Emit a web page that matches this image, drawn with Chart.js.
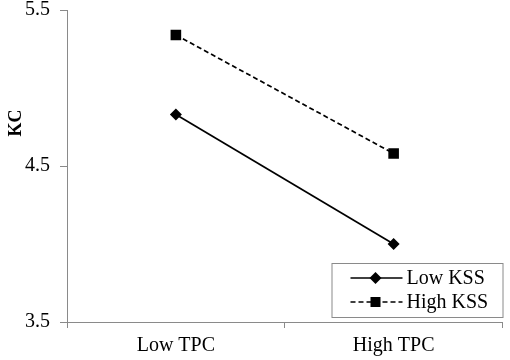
<!DOCTYPE html>
<html>
<head>
<meta charset="utf-8">
<script src="https://cdn.jsdelivr.net/npm/chart.js@4.4.1/dist/chart.umd.min.js"></script>
<style>
  html, body { margin: 0; padding: 0; background: #fff; }
</style>
</head>
<body>
<canvas id="kc" width="510" height="360"></canvas>
<script>
const categories = ['Low TPC', 'High TPC'];
const lowKss = [4.83, 4.00];
const highKss = [5.34, 4.58];
const seriesNames = ['Low KSS', 'High KSS'];
const yTicks = [3.5, 4.5, 5.5];
const yTitle = 'KC';

const serif = "'Liberation Serif', 'Times New Roman', serif";
const axisGray = '#8a8a8a';

// legend with a frame, sitting in the lower right of the plot
const boxLegend = {
  id: 'boxLegend',
  afterDraw(chart) {
    const ctx = chart.ctx;
    const a = chart.chartArea;
    const w = 171, h = 54;
    const x0 = a.right - w, y0 = a.bottom - 5 - h;
    ctx.save();
    ctx.fillStyle = '#fff';
    ctx.fillRect(x0, y0, w, h);
    ctx.strokeStyle = axisGray;
    ctx.lineWidth = 1;
    ctx.strokeRect(x0 + 0.5, y0 + 0.5, w, h);
    chart.data.datasets.forEach((ds, i) => {
      const y = y0 + 15 + i * 24;
      ctx.strokeStyle = ds.borderColor;
      ctx.lineWidth = ds.borderWidth;
      ctx.setLineDash(ds.borderDash || []);
      ctx.beginPath();
      ctx.moveTo(x0 + 19, y);
      ctx.lineTo(x0 + 71, y);
      ctx.stroke();
      ctx.setLineDash([]);
      ctx.fillStyle = ds.pointBackgroundColor;
      const cx = x0 + 44;
      ctx.beginPath();
      if (ds.pointStyle === 'rectRot') {
        const r = 6;
        ctx.moveTo(cx, y - r); ctx.lineTo(cx + r, y); ctx.lineTo(cx, y + r); ctx.lineTo(cx - r, y);
        ctx.closePath();
      } else {
        ctx.rect(cx - 5, y - 5, 10, 10);
      }
      ctx.fill();
      ctx.fillStyle = '#000';
      ctx.font = '20px ' + serif;
      ctx.textBaseline = 'middle';
      ctx.textAlign = 'left';
      ctx.fillText(ds.label, x0 + 75, y + 1);
    });
    ctx.restore();
  }
};

// y title sits above the middle of the axis in the original
const sideTitle = {
  id: 'sideTitle',
  afterDraw(chart) {
    const ctx = chart.ctx;
    ctx.save();
    ctx.translate(16, 123);
    ctx.rotate(-Math.PI / 2);
    ctx.font = 'bold 18px ' + serif;
    ctx.fillStyle = '#000';
    ctx.textAlign = 'center';
    ctx.textBaseline = 'middle';
    ctx.fillText(yTitle, 0, 0);
    ctx.restore();
  }
};

new Chart(document.getElementById('kc'), {
  type: 'line',
  data: {
    labels: categories,
    datasets: [
      {
        label: seriesNames[0],
        data: lowKss,
        borderColor: '#000',
        borderWidth: 1.7,
        pointStyle: 'rectRot',
        pointRadius: 6,
        pointBackgroundColor: '#000',
        pointBorderWidth: 0
      },
      {
        label: seriesNames[1],
        data: highKss,
        borderColor: '#000',
        borderWidth: 1.7,
        borderDash: [5, 3],
        pointStyle: 'rect',
        pointRadius: 7.5,
        pointBackgroundColor: '#000',
        pointBorderWidth: 0
      }
    ]
  },
  options: {
    responsive: false,
    animation: false,
    layout: { padding: { top: 10, right: 6, left: 0, bottom: 0 } },
    plugins: {
      legend: { display: false },
      tooltip: { enabled: false }
    },
    scales: {
      x: {
        offset: true,
        grid: { offset: true, drawOnChartArea: false, tickLength: 6, color: axisGray },
        border: { color: axisGray, width: 1 },
        ticks: { color: '#000', font: { family: serif, size: 20 }, padding: 6, maxRotation: 0 },
        afterFit(scale) { scale.height = 38; }
      },
      y: {
        min: yTicks[0],
        max: yTicks[yTicks.length - 1],
        afterBuildTicks(scale) { scale.ticks = yTicks.map(v => ({ value: v })); },
        grid: { drawOnChartArea: false, tickLength: 7, color: axisGray },
        border: { color: axisGray, width: 1 },
        ticks: {
          color: '#000',
          font: { family: serif, size: 20 },
          padding: 10,
          callback: v => v.toFixed(1)
        },
        afterFit(scale) {
          scale.width = 67;
          scale.paddingTop = 0;
          scale.paddingBottom = 0;
        }
      }
    }
  },
  plugins: [boxLegend, sideTitle]
});
</script>
</body>
</html>
